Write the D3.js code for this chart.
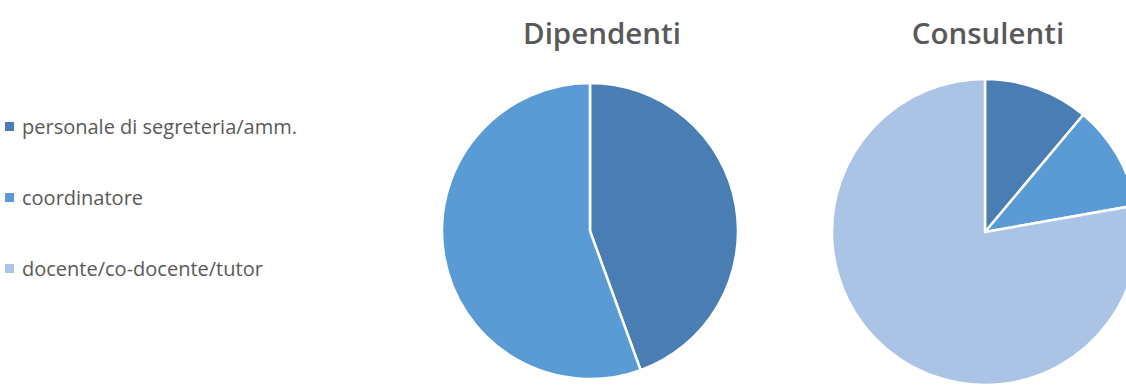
<!DOCTYPE html>
<html>
<head>
<meta charset="utf-8">
<script src="https://cdnjs.cloudflare.com/ajax/libs/d3/7.8.5/d3.min.js"></script>
<style>
  html, body { margin: 0; padding: 0; background: #fff; }
  svg { display: block; overflow: hidden; }
</style>
</head>
<body>
<div id="chart"></div>
<script>
const categories = ['personale di segreteria/amm.', 'coordinatore', 'docente/co-docente/tutor'];
const dipendenti = [4, 5, 0];
const consulenti = [1, 1, 7];
const pieTitles = ['Dipendenti', 'Consulenti'];

const width = 1126;
const height = 387;
const colors = ['#4a7db4', '#5b9bd5', '#abc4e6'];
const textColor = '#595959';
const font = "'Open Sans', 'DejaVu Sans', sans-serif";

const svg = d3.select('#chart').append('svg')
  .attr('width', width)
  .attr('height', height);

const color = d3.scaleOrdinal().domain(categories).range(colors);

const pies = [
  { title: pieTitles[0], values: dipendenti, cx: 590, cy: 231, r: 148, tx: 602 },
  { title: pieTitles[1], values: consulenti, cx: 985, cy: 232, r: 153, tx: 988 },
];

const pie = d3.pie().sort(null).value((d) => d.value);

pies.forEach((p) => {
  const data = categories.map((c, i) => ({ name: c, value: p.values[i] }));
  const arc = d3.arc().innerRadius(0).outerRadius(p.r);
  const g = svg.append('g').attr('transform', `translate(${p.cx},${p.cy})`);
  g.selectAll('path')
    .data(pie(data).filter((d) => d.data.value > 0))
    .join('path')
    .attr('d', arc)
    .attr('fill', (d) => color(d.data.name))
    .attr('stroke', '#fff')
    .attr('stroke-width', 2.5)
    .attr('stroke-linejoin', 'round');

  // titles above each pie
  svg.append('text')
    .attr('x', p.tx)
    .attr('y', 44)
    .attr('text-anchor', 'middle')
    .attr('font-family', font)
    .attr('font-weight', 600)
    .attr('font-size', 29.5)
    .attr('fill', textColor)
    .text(p.title);
});

const legend = svg.append('g');
const rows = legend.selectAll('g')
  .data(categories)
  .join('g')
  .attr('transform', (d, i) => `translate(5,${127 + i * 71})`);

rows.append('rect')
  .attr('x', 0)
  .attr('y', -5)
  .attr('width', 9)
  .attr('height', 9)
  .attr('fill', (d) => color(d));

rows.append('text')
  .attr('x', 17)
  .attr('y', 7)
  .attr('font-family', font)
  .attr('font-size', 20)
  .attr('fill', textColor)
  .text((d) => d);
</script>
</body>
</html>
